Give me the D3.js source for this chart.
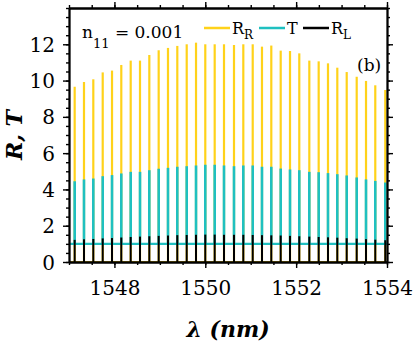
<!DOCTYPE html>
<html>
<head>
<meta charset="utf-8">
<script src="https://d3js.org/d3.v7.min.js"></script>
<style>
body { margin: 0; background: #fff; }
</style>
</head>
<body>
<svg width="415" height="344"></svg>
<script>
// resonance wavelengths (nm)
var peakNm = [1547.125, 1547.330, 1547.535, 1547.742, 1547.947, 1548.151, 1548.358, 1548.563,
	1548.768, 1548.974, 1549.179, 1549.384, 1549.591, 1549.796, 1550.000, 1550.207,
	1550.412, 1550.632, 1550.837, 1551.044, 1551.248, 1551.453, 1551.660, 1551.865,
	1552.069, 1552.290, 1552.496, 1552.701, 1552.906, 1553.113, 1553.333, 1553.538,
	1553.742, 1553.962];
var rRight = [9.66, 9.92, 10.07, 10.45, 10.55, 10.86, 11.10, 11.10, 11.41, 11.67, 11.80, 11.91,
	12.00, 12.09, 12.00, 12.00, 12.00, 11.96, 12.00, 12.00, 11.87, 11.93, 11.65, 11.63,
	11.50, 11.10, 11.06, 10.95, 10.71, 10.47, 10.21, 9.98, 9.74, 9.48];
var trans = [4.45, 4.55, 4.60, 4.73, 4.79, 4.88, 4.97, 4.97, 5.06, 5.14, 5.19, 5.25,
	5.28, 5.32, 5.36, 5.36, 5.32, 5.28, 5.32, 5.32, 5.25, 5.25, 5.15, 5.10,
	5.06, 4.97, 4.95, 4.90, 4.84, 4.77, 4.66, 4.55, 4.47, 4.38];
var rLeft = [1.22, 1.25, 1.27, 1.30, 1.32, 1.35, 1.38, 1.40, 1.42, 1.44, 1.46, 1.48,
	1.49, 1.50, 1.51, 1.51, 1.50, 1.50, 1.50, 1.49, 1.48, 1.47, 1.46, 1.44,
	1.42, 1.40, 1.38, 1.36, 1.34, 1.31, 1.29, 1.26, 1.23, 1.20];
var tBase = 1;      // off-resonance transmission
var xTicks = [1548, 1550, 1552, 1554];
var yTicks = [0, 2, 4, 6, 8, 10, 12];

var colR = "#ffd21a", colT = "#1fc0c0", colL = "#000";
var serif = "DejaVu Serif";

var svg = d3.select("svg"),
	margin = {top: 8, right: 28, bottom: 82, left: 69},
	width = +svg.attr("width") - margin.left - margin.right,
	height = +svg.attr("height") - margin.top - margin.bottom,
	g = svg.append("g").attr("transform", "translate(" + margin.left + "," + margin.top + ")");

var x = d3.scaleLinear().domain([1547, 1554]).range([0, width]);
var y = d3.scaleLinear().domain([0, 14]).range([height, 0]);

g.append("clipPath").attr("id", "clip")
	.append("rect").attr("width", width).attr("height", height);

var plot = g.append("g").attr("clip-path", "url(#clip)");

function bars(vals, base, col, w) {
	plot.append("g").selectAll("line")
		.data(vals)
		.enter().append("line")
		.attr("x1", function(d, i) { return x(peakNm[i]); })
		.attr("x2", function(d, i) { return x(peakNm[i]); })
		.attr("y1", y(base))
		.attr("y2", function(d) { return y(d); })
		.attr("stroke", col)
		.attr("stroke-width", w);
}
function hline(v, col, w) {
	plot.append("line")
		.attr("x1", 0).attr("x2", width)
		.attr("y1", y(v)).attr("y2", y(v))
		.attr("stroke", col).attr("stroke-width", w);
}

hline(0, colR, 2);
bars(rRight, 0, colR, 2.2);
hline(tBase, colT, 2.2);
bars(trans, tBase, colT, 2.6);
bars(rLeft, 0, colL, 2);

// axes: majors with labels, minors every 0.5
var xMinor = d3.range(1547, 1554.01, 0.5);
var yMinor = d3.range(0, 14.01, 0.5);

function axisSet(gen, scale, majors, minors, tr, labels) {
	var a = g.append("g").attr("transform", tr);
	a.call(gen(scale).tickValues(minors).tickSize(3).tickSizeOuter(0).tickFormat(""));
	var b = g.append("g").attr("transform", tr);
	var ax = gen(scale).tickValues(majors).tickSize(6).tickSizeOuter(0)
		.tickFormat(labels ? d3.format("d") : "");
	b.call(ax);
	b.attr("font-family", serif).attr("font-size", 20);
	[a, b].forEach(function(s) {
		s.selectAll("path").attr("stroke-width", 1.8);
		s.selectAll("line").attr("stroke-width", 1.4);
	});
	return b;
}

var bx = axisSet(d3.axisBottom, x, xTicks, xMinor, "translate(0," + height + ")", true);
bx.selectAll("text").attr("y", 19).attr("dy", "0.71em");
var ly = axisSet(d3.axisLeft, y, yTicks, yMinor, "translate(0,0)", true);
ly.selectAll("text").attr("x", -14).attr("dy", "0.35em");
axisSet(d3.axisTop, x, xTicks, xMinor, "translate(0,0)", false);
axisSet(d3.axisRight, y, yTicks, yMinor, "translate(" + width + ",0)", false);

// axis titles
svg.append("text")
	.attr("x", margin.left + width / 2).attr("y", 337)
	.attr("text-anchor", "middle")
	.attr("font-family", serif).attr("font-size", 22)
	.attr("font-weight", "bold").attr("font-style", "italic")
	.text("\u03bb (nm)");
svg.append("text")
	.attr("transform", "translate(22," + (margin.top + height / 2) + ") rotate(-90)")
	.attr("text-anchor", "middle")
	.attr("font-family", serif).attr("font-size", 22)
	.attr("font-weight", "bold").attr("font-style", "italic")
	.text("R, T");

// annotation
var ann = svg.append("text").attr("x", 82).attr("y", 38)
	.attr("font-family", serif).attr("font-size", 17);
ann.append("tspan").text("n");
ann.append("tspan").attr("font-size", 13).attr("dy", 10).text("11");
ann.append("tspan").attr("dy", -10).text(" = 0.001");

svg.append("text").attr("x", 357).attr("y", 71)
	.attr("font-family", serif).attr("font-size", 17).text("(b)");

// legend
var legend = [
	{col: colR, main: "R", sub: "R", x0: 204},
	{col: colT, main: "T", sub: "", x0: 259},
	{col: colL, main: "R", sub: "L", x0: 303}
];
legend.forEach(function(d) {
	svg.append("line")
		.attr("x1", d.x0).attr("x2", d.x0 + 26)
		.attr("y1", 28).attr("y2", 28)
		.attr("stroke", d.col).attr("stroke-width", 2.5);
	var t = svg.append("text").attr("x", d.x0 + 28).attr("y", 34)
		.attr("font-family", serif).attr("font-size", 16);
	t.append("tspan").text(d.main);
	if (d.sub) t.append("tspan").attr("font-size", 12).attr("dy", 5).text(d.sub);
});
</script>
</body>
</html>
